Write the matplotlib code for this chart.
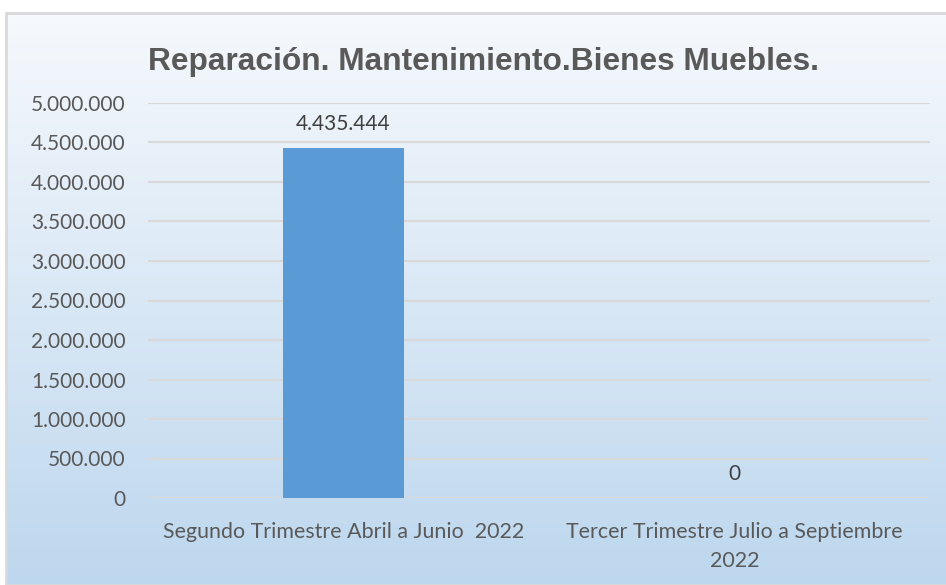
import numpy as np
from matplotlib import pyplot as plt
from matplotlib.patches import Rectangle
from matplotlib.ticker import FuncFormatter

categories = ["Segundo Trimestre Abril a Junio  2022", "Tercer Trimestre Julio a Septiembre\n2022"]
values = [4435444, 0]
value_labels = ["4.435.444", "0"]
title = "Reparación. Mantenimiento.Bienes Muebles."

W, H = 946, 585
fig = plt.figure(figsize=(W / 100, H / 100), dpi=100)
fig.patch.set_facecolor("white")

# gradient background of the chart frame
bg = fig.add_axes([6 / W, 0, 1 - 6 / W, 1 - 13 / H])
grad = np.linspace(0, 1, 256).reshape(-1, 1)
top = np.array([0.965, 0.976, 0.992])
bot = np.array([0.741, 0.843, 0.933])
img = top + (bot - top) * grad[..., None]
bg.imshow(img, aspect="auto", extent=[0, 1, 0, 1], origin="upper")
bg.set_xlim(0, 1)
bg.set_ylim(0, 1)
bg.axis("off")
bg.add_patch(Rectangle((0, 0), 1.2, 1, fill=False, edgecolor="#d9d9d9", lw=2, transform=bg.transAxes, clip_on=False))

# plot area: x 148-930, y 103-498
ax = fig.add_axes([148 / W, 1 - 498 / H, (930 - 148) / W, (498 - 103) / H])
ax.patch.set_alpha(0)
x = np.arange(len(categories))
ax.bar(x, values, width=0.31, color="#5b9bd5", zorder=3)
ax.set_xlim(-0.5, 1.5)
ax.set_ylim(0, 5000000)
ax.set_yticks(np.arange(0, 5000001, 500000))
ax.yaxis.set_major_formatter(FuncFormatter(lambda v, p: f"{int(v):,}".replace(",", ".")))
ax.grid(axis="y", color="#d9d9d9", lw=1.6, zorder=0)
for s in ax.spines.values():
    s.set_visible(False)
ax.tick_params(axis="both", length=0, labelsize=15, labelcolor="#595959")
ax.tick_params(axis="y", pad=16)
ax.tick_params(axis="x", pad=17, labelsize=15.4)
ax.set_xticks(x)
ax.set_xticklabels(categories, linespacing=1.6)
for t in ax.get_xticklabels() + ax.get_yticklabels():
    t.set_family("Lato")

for xi, v, lab in zip(x, values, value_labels):
    ax.annotate(lab, (xi, v), xytext=(0, 17), textcoords="offset points",
                ha="center", va="center", fontsize=15, color="#404040", family="Lato")

fig.text((148 + 818) / 2 / W, 1 - 62 / H, title, ha="center", va="center",
         fontsize=22.8, fontweight="bold", color="#595959", family="Liberation Sans")

fig.savefig("out.png", dpi=100)
